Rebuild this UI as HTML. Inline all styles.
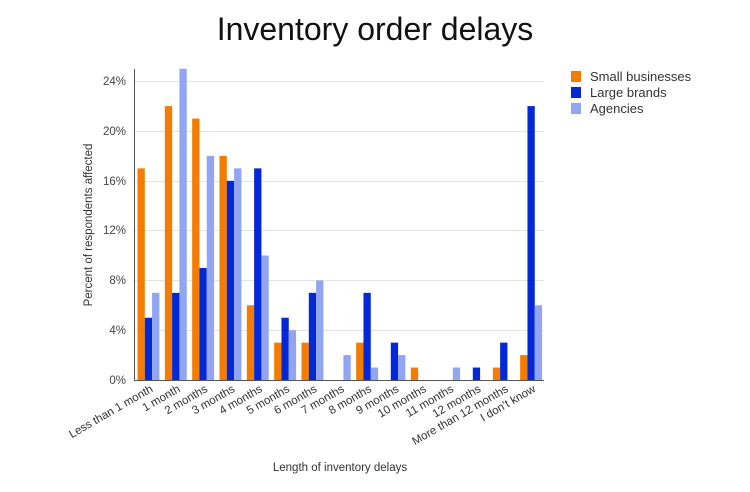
<!DOCTYPE html>
<html><head><meta charset="utf-8"><style>body{margin:0;background:#fff}svg{display:block}</style></head>
<body>
<svg width="750" height="492" xmlns="http://www.w3.org/2000/svg" font-family="Liberation Sans, sans-serif">
<text x="375" y="40" text-anchor="middle" font-size="32" fill="#111">Inventory order delays</text>
<g stroke="#e3e3e3" stroke-width="1">
<line x1="134" x2="544" y1="81.5" y2="81.5"/><line x1="134" x2="544" y1="131.5" y2="131.5"/>
<line x1="134" x2="544" y1="181.5" y2="181.5"/><line x1="134" x2="544" y1="230.5" y2="230.5"/>
<line x1="134" x2="544" y1="280.5" y2="280.5"/><line x1="134" x2="544" y1="330.5" y2="330.5"/>
</g>
<g font-size="11.5" fill="#444" text-anchor="end">
<text x="126" y="85">24%</text><text x="126" y="135">20%</text><text x="126" y="185">16%</text>
<text x="126" y="234">12%</text><text x="126" y="284">8%</text><text x="126" y="334">4%</text><text x="126" y="384">0%</text>
</g>
<text transform="translate(92,225) rotate(-90)" text-anchor="middle" font-size="11.5" fill="#333">Percent of respondents affected</text>
<g id="bars"></g>
<line x1="134.5" y1="69" x2="134.5" y2="380" stroke="#555"/>
<line x1="134" y1="380.5" x2="544" y2="380.5" stroke="#555"/>
<g id="labels" font-size="11.5" fill="#333" text-anchor="end"></g>
<text x="340" y="471" text-anchor="middle" font-size="11.5" fill="#333">Length of inventory delays</text>
<rect x="571" y="71" width="10" height="11" fill="#f57c00"/><text x="590" y="81" font-size="13" fill="#333">Small businesses</text>
<rect x="571" y="87" width="10" height="11" fill="#0428d8"/><text x="590" y="97" font-size="13" fill="#333">Large brands</text>
<rect x="571" y="103" width="10" height="11" fill="#91a5f2"/><text x="590" y="113" font-size="13" fill="#333">Agencies</text>
</svg>
<script>
var d=[[17,5,7],[22,7,25],[21,9,18],[18,16,17],[6,17,10],[3,5,4],[3,7,8],[0,0,2],[3,7,1],[0,3,2],[1,0,0],[0,0,1],[0,1,0],[1,3,0],[2,22,6]];
var L=["Less than 1 month","1 month","2 months","3 months","4 months","5 months","6 months","7 months","8 months","9 months","10 months","11 months","12 months","More than 12 months","I don't know"];
var c=["#f57c00","#0428d8","#91a5f2"],g=410/15,s="",t="";
d.forEach(function(r,i){var x0=134+i*g+3.5;r.forEach(function(v,j){if(v){var h=v*12.45;s+='<rect x="'+(x0+j*7.3)+'" y="'+(380-h)+'" width="7.3" height="'+h+'" fill="'+c[j]+'"/>';}});
var cx=134+i*g+g/2+6;t+='<text transform="translate('+cx+',391) rotate(-30)">'+L[i].replace("'","&#8217;")+'</text>';});
document.getElementById("bars").innerHTML=s;document.getElementById("labels").innerHTML=t;
</script>
</body></html>
